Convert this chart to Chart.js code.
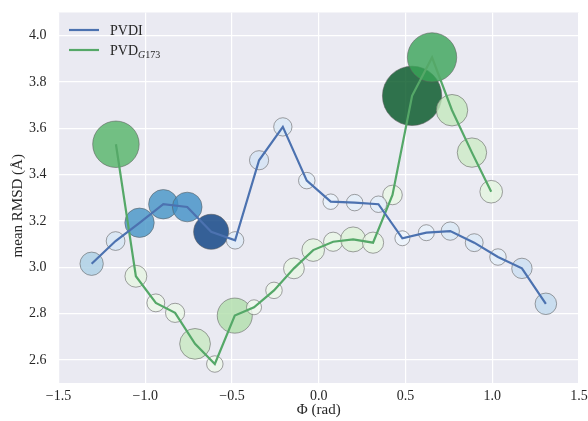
<!DOCTYPE html>
<html>
<head>
<meta charset="utf-8">
<script src="https://cdn.jsdelivr.net/npm/chart.js@4.4.0/dist/chart.umd.min.js"></script>
<style>
  html, body { margin: 0; padding: 0; background: #ffffff; }
  #wrap { width: 588px; height: 421px; }
</style>
</head>
<body>
<div id="wrap"><canvas id="rmsdChart" width="588" height="421"></canvas></div>
<script>
// tick values
const xTicks = [-1.5, -1.0, -0.5, 0.0, 0.5, 1.0, 1.5];
const yTicks = [2.6, 2.8, 3.0, 3.2, 3.4, 3.6, 3.8, 4.0];

// PVDI: phi (rad), mean RMSD (A), population of each bin
const pvdiPhi = [-1.309, -1.171, -1.033, -0.896, -0.758, -0.620, -0.482, -0.344, -0.207, -0.069,
                 0.069, 0.207, 0.344, 0.482, 0.620, 0.758, 0.896, 1.033, 1.171, 1.309];
const pvdiRmsd = [3.015, 3.113, 3.192, 3.272, 3.260, 3.153, 3.116, 3.462, 3.606, 3.374,
                  3.283, 3.279, 3.272, 3.125, 3.149, 3.156, 3.106, 3.044, 2.995, 2.842];
const pvdiCount = [34, 22, 54, 54, 55, 77, 19, 23, 21, 17, 15, 17, 17, 14, 16, 21, 20, 17, 26, 29];

// PVD G173
const g173Phi = [-1.169, -1.054, -0.939, -0.828, -0.713, -0.599, -0.484, -0.373, -0.258, -0.143,
                 -0.032, 0.083, 0.198, 0.313, 0.425, 0.538, 0.653, 0.768, 0.883, 0.994];
const g173Rmsd = [3.531, 2.961, 2.846, 2.803, 2.669, 2.582, 2.791, 2.827, 2.900, 2.995,
                  3.074, 3.110, 3.120, 3.106, 3.312, 3.740, 3.906, 3.678, 3.495, 3.326];
const g173Count = [135, 30, 20, 23, 59, 17, 77, 14, 17, 27, 32, 23, 39, 28, 24, 220, 152, 62, 54, 32];

const FONT = "'Liberation Serif', 'DejaVu Serif', serif";
const TEXT_COLOR = '#262626';
const BLUE = '#4c72b0';
const GREEN = '#55a868';

// matplotlib Blues / Greens stops
const BLUES = ['#f7fbff', '#deebf7', '#c6dbef', '#9ecae1', '#6baed6', '#4292c6', '#2171b5', '#08519c', '#08306b'];
const GREENS = ['#f7fcf5', '#e5f5e0', '#c7e9c0', '#a1d99b', '#74c476', '#41ab5d', '#238b45', '#006d2c', '#00441b'];

function hexToRgb(h) {
    return [parseInt(h.slice(1, 3), 16), parseInt(h.slice(3, 5), 16), parseInt(h.slice(5, 7), 16)];
}

function colormap(stops, t, alpha) {
    t = Math.max(0, Math.min(1, t));
    const pos = t * (stops.length - 1);
    const i = Math.min(Math.floor(pos), stops.length - 2);
    const f = pos - i;
    const a = hexToRgb(stops[i]);
    const b = hexToRgb(stops[i + 1]);
    const c = a.map((v, k) => Math.round(v + (b[k] - v) * f));
    return 'rgba(' + c[0] + ',' + c[1] + ',' + c[2] + ',' + alpha + ')';
}

function bubbleColors(counts, stops) {
    const lo = Math.min(...counts);
    const hi = Math.max(...counts);
    return counts.map(c => colormap(stops, 0.05 + 0.9 * (c - lo) / (hi - lo), 0.8));
}

function bubblePoints(phi, rmsd, counts) {
    return phi.map((x, i) => ({ x: x, y: rmsd[i], r: 2 * Math.sqrt(counts[i]) }));
}

function linePoints(phi, rmsd) {
    return phi.map((x, i) => ({ x: x, y: rmsd[i] }));
}

function fmtTick(v) {
    return v.toFixed(1).replace('-', '\u2212');
}

// seaborn-like grey plot background
const plotBackground = {
    id: 'plotBackground',
    beforeDraw(chart) {
        const { ctx, chartArea } = chart;
        ctx.save();
        ctx.fillStyle = '#eaeaf2';
        ctx.fillRect(chartArea.left, chartArea.top, chartArea.right - chartArea.left, chartArea.bottom - chartArea.top);
        ctx.restore();
    }
};

// axis titles and legend (legend needs a subscript)
const annotations = {
    id: 'annotations',
    afterDraw(chart) {
        const { ctx, chartArea } = chart;
        ctx.save();
        ctx.fillStyle = TEXT_COLOR;
        ctx.font = '15px ' + FONT;
        ctx.textAlign = 'center';
        ctx.textBaseline = 'middle';
        ctx.fillText('\u03a6 (rad)', (chartArea.left + chartArea.right) / 2, 410);

        ctx.save();
        ctx.translate(18, (chartArea.top + chartArea.bottom) / 2 + 8);
        ctx.rotate(-Math.PI / 2);
        ctx.fillText('mean RMSD (\u00c5)', 0, 0);
        ctx.restore();

        // legend
        const x0 = 69, x1 = 99, tx = 110;
        const rows = [{ y: 30, color: BLUE }, { y: 50, color: GREEN }];
        ctx.lineWidth = 2.2;
        rows.forEach(r => {
            ctx.strokeStyle = r.color;
            ctx.beginPath();
            ctx.moveTo(x0, r.y);
            ctx.lineTo(x1, r.y);
            ctx.stroke();
        });
        ctx.textAlign = 'left';
        ctx.textBaseline = 'alphabetic';
        ctx.font = '14px ' + FONT;
        ctx.fillText('PVDI', tx, rows[0].y + 5);
        ctx.fillText('PVD', tx, rows[1].y + 5);
        let sx = tx + ctx.measureText('PVD').width;
        ctx.font = 'italic 10px ' + FONT;
        ctx.fillText('G', sx, rows[1].y + 8);
        sx += ctx.measureText('G').width;
        ctx.font = '10px ' + FONT;
        ctx.fillText('173', sx, rows[1].y + 8);
        ctx.restore();
    }
};

const ctx = document.getElementById('rmsdChart').getContext('2d');
new Chart(ctx, {
    type: 'bubble',
    data: {
        datasets: [
            {
                type: 'line',
                label: 'PVDI',
                data: linePoints(pvdiPhi, pvdiRmsd),
                borderColor: BLUE,
                borderWidth: 2.2,
                pointRadius: 0,
                tension: 0,
                fill: false,
                order: 0
            },
            {
                type: 'line',
                label: 'PVD G173',
                data: linePoints(g173Phi, g173Rmsd),
                borderColor: GREEN,
                borderWidth: 2.2,
                pointRadius: 0,
                tension: 0,
                fill: false,
                order: 0
            },
            {
                label: 'PVDI population',
                data: bubblePoints(pvdiPhi, pvdiRmsd, pvdiCount),
                backgroundColor: bubbleColors(pvdiCount, BLUES),
                borderColor: 'rgba(90, 90, 90, 0.55)',
                borderWidth: 1,
                order: 1
            },
            {
                label: 'PVD G173 population',
                data: bubblePoints(g173Phi, g173Rmsd, g173Count),
                backgroundColor: bubbleColors(g173Count, GREENS),
                borderColor: 'rgba(90, 90, 90, 0.55)',
                borderWidth: 1,
                order: 1
            }
        ]
    },
    options: {
        responsive: false,
        animation: false,
        events: [],
        layout: { autoPadding: false, padding: { left: 0, top: 12.5, right: 9, bottom: 0 } },
        plugins: {
            legend: { display: false },
            tooltip: { enabled: false }
        },
        scales: {
            x: {
                type: 'linear',
                min: -1.5,
                max: 1.5,
                afterBuildTicks: s => { s.ticks = xTicks.map(v => ({ value: v })); },
                afterFit: s => { s.height = 38; s.paddingLeft = 0; s.paddingRight = 0; },
                grid: { color: '#ffffff', lineWidth: 1.2, drawTicks: false },
                border: { display: false },
                ticks: {
                    color: TEXT_COLOR,
                    font: { family: FONT, size: 14 },
                    padding: 5,
                    maxRotation: 0,
                    callback: v => fmtTick(v)
                }
            },
            y: {
                type: 'linear',
                min: 2.5,
                max: 4.1,
                afterBuildTicks: s => { s.ticks = yTicks.map(v => ({ value: v })); },
                afterFit: s => { s.width = 58.5; s.paddingTop = 0; s.paddingBottom = 0; },
                grid: { color: '#ffffff', lineWidth: 1.2, drawTicks: false },
                border: { display: false },
                ticks: {
                    color: TEXT_COLOR,
                    font: { family: FONT, size: 14 },
                    padding: 12,
                    callback: v => fmtTick(v)
                }
            }
        }
    },
    plugins: [plotBackground, annotations]
});
</script>
</body>
</html>
